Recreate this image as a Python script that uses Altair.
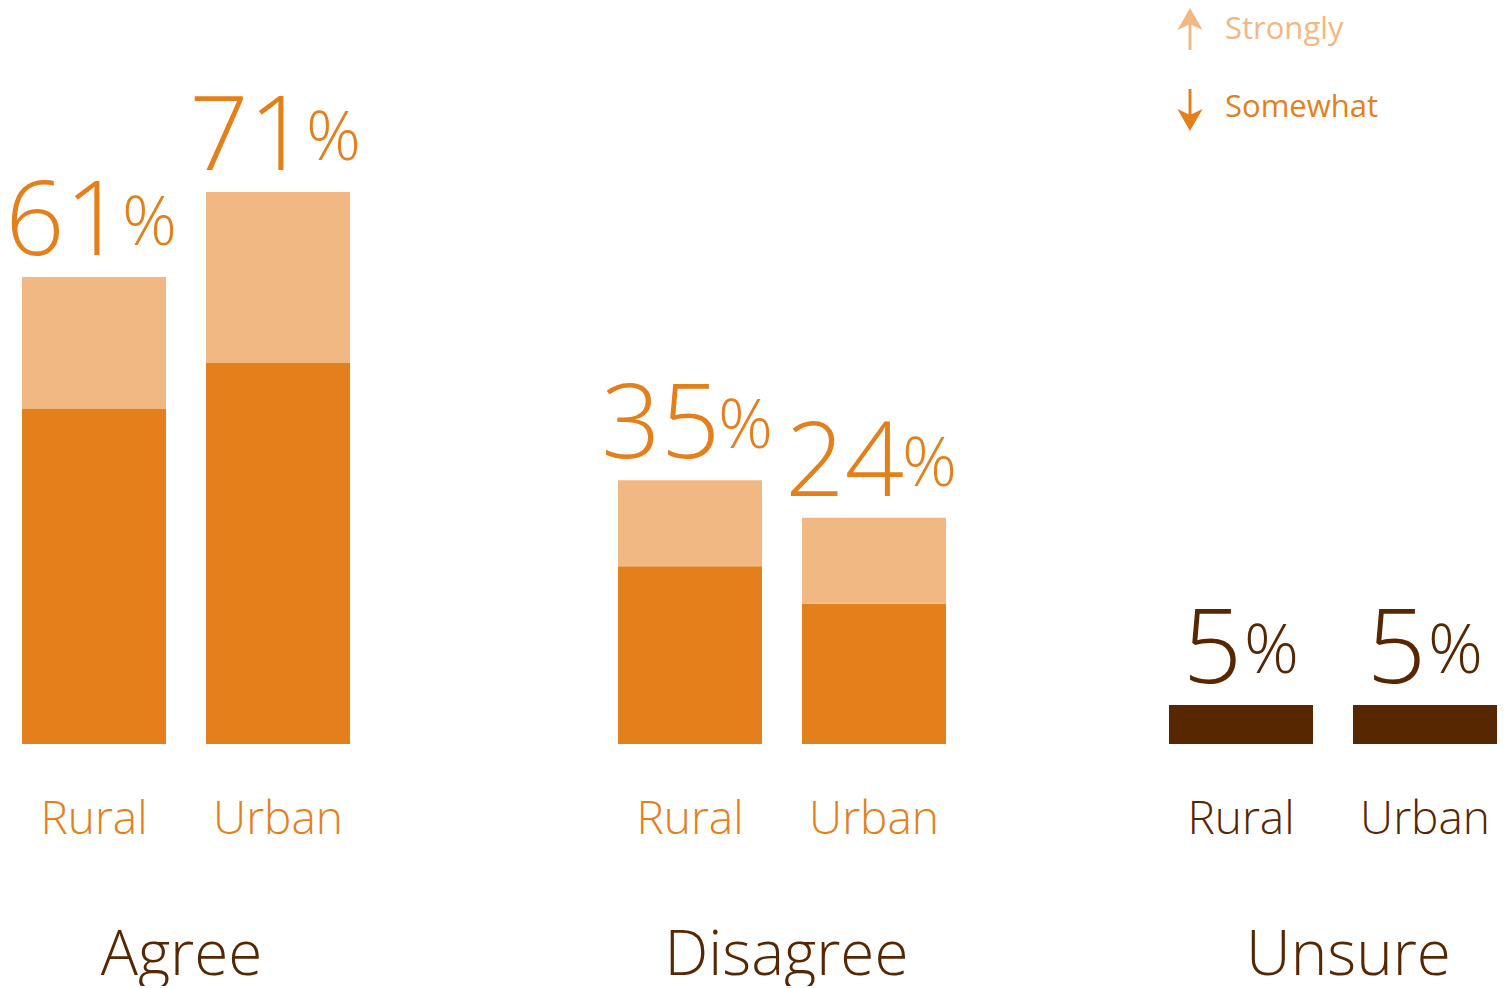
import altair as alt
import pandas as pd

FONT = "Open Sans"
WEIGHT = 300
ORANGE = "#E3801C"
LIGHT = "#F1B883"
BROWN = "#562700"

categories = ["Rural", "Urban"]
groups = ["Agree", "Disagree", "Unsure"]

agree_somewhat = [43.7, 49.7]
agree_strongly = [17.2, 22.3]
agree_labels = ["61", "71"]

disagree_somewhat = [23.2, 18.3]
disagree_strongly = [11.2, 11.2]
disagree_labels = ["35", "24"]

unsure_values = [5.1, 5.1]
unsure_labels = ["5", "5"]

legend_items = ["Strongly", "Somewhat"]

UP_ARROW = "M0,-1 L0.6,0.05 L0.07,-0.2 L0.07,1 L-0.07,1 L-0.07,-0.2 L-0.6,0.05 Z"
DOWN_ARROW = "M0,1 L0.6,-0.05 L0.07,0.2 L0.07,-1 L-0.07,-1 L-0.07,0.2 L-0.6,-0.05 Z"

color_scale = alt.Scale(domain=["Somewhat", "Strongly", "Unsure"], range=[ORANGE, LIGHT, BROWN])
y_scale = alt.Scale(domain=[0, 96], nice=False, zero=True)

STEP = 184.0
PAD_INNER = 40 / STEP


def outer_pad(width):
    return (width / STEP - (2 - PAD_INNER)) / 2


def panel(group, segments, labels, label_color, num_dx, pct_dx, width, align, title_x,
          legend_x=None):
    rows = []
    for order, (series, vals) in enumerate(segments):
        for c, v in zip(categories, vals):
            rows.append({"cat": c, "series": series, "value": v, "ord": order})
    df = pd.DataFrame(rows)
    tops = [sum(vals[i] for _, vals in segments) for i in range(len(categories))]
    lab = pd.DataFrame({"cat": categories, "label": labels, "top": tops, "pct": ["%"] * len(categories)})

    x = alt.X(
        "cat:N", sort=categories,
        scale=alt.Scale(paddingInner=PAD_INNER, paddingOuter=outer_pad(width), align=align),
        axis=alt.Axis(title=group, domain=False, ticks=False, labelAngle=0, labelFontSize=46,
                      labelColor=label_color, labelFont=FONT, labelFontWeight=WEIGHT, labelPadding=53,
                      titleFont=FONT, titleFontSize=62, titleColor=BROWN, titleFontWeight=WEIGHT,
                      titlePadding=83, titleX=title_x, titleAlign="center"),
    )
    bars = alt.Chart(df).mark_bar().encode(
        x=x,
        y=alt.Y("value:Q", stack="zero", scale=y_scale, axis=None),
        color=alt.Color("series:N", scale=color_scale, legend=None),
        order=alt.Order("ord:Q", sort="ascending"),
    )
    num = alt.Chart(lab).mark_text(
        align="right", baseline="alphabetic", dx=num_dx, dy=-22, fontSize=104, font=FONT,
        fontWeight=WEIGHT, color=label_color
    ).encode(x=x, y=alt.Y("top:Q", scale=y_scale, axis=None), text="label:N")
    pct = alt.Chart(lab).mark_text(
        align="left", baseline="alphabetic", dx=pct_dx, dy=-32, fontSize=68, font=FONT,
        fontWeight=WEIGHT, color=label_color
    ).encode(x=x, y=alt.Y("top:Q", scale=y_scale, axis=None), text="pct:N")
    layers = [bars, num, pct]
    if legend_x is not None:
        s_df = pd.DataFrame({"t": [legend_items[0]]})
        w_df = pd.DataFrame({"t": [legend_items[1]]})
        layers += [
            alt.Chart(s_df).mark_point(shape=UP_ARROW, filled=True, size=1764, opacity=1, color=LIGHT, strokeWidth=0)
            .encode(x=alt.value(legend_x), y=alt.value(21)),
            alt.Chart(w_df).mark_point(shape=DOWN_ARROW, filled=True, size=1764, opacity=1, color=ORANGE, strokeWidth=0)
            .encode(x=alt.value(legend_x), y=alt.value(102)),
            alt.Chart(s_df).mark_text(align="left", baseline="alphabetic", fontSize=31, font=FONT, color=LIGHT)
            .encode(x=alt.value(legend_x + 35), y=alt.value(31), text="t:N"),
            alt.Chart(w_df).mark_text(align="left", baseline="alphabetic", fontSize=31, font=FONT, color=ORANGE)
            .encode(x=alt.value(legend_x + 35), y=alt.value(109), text="t:N"),
        ]
    return alt.layer(*layers).properties(width=width, height=736)


p1 = panel("Agree", [("Somewhat", agree_somewhat), ("Strongly", agree_strongly)], agree_labels,
           ORANGE, 30, 28, 462, 0, 159)
p2 = panel("Disagree", [("Somewhat", disagree_somewhat), ("Strongly", disagree_strongly)], disagree_labels,
           ORANGE, 30, 28, 462, 1, 302)
p3 = panel("Unsure", [("Unsure", unsure_values)], unsure_labels, BROWN, 1, 3, 551, 1, 402,
           legend_x=244)

chart = alt.hconcat(p1, p2, p3, spacing=0, bounds="flush").properties(
    padding={"left": -3, "top": 0, "right": 0, "bottom": 0}
).configure_view(stroke=None)

chart.save("out.html", embed_options={"renderer": "svg", "actions": False})
